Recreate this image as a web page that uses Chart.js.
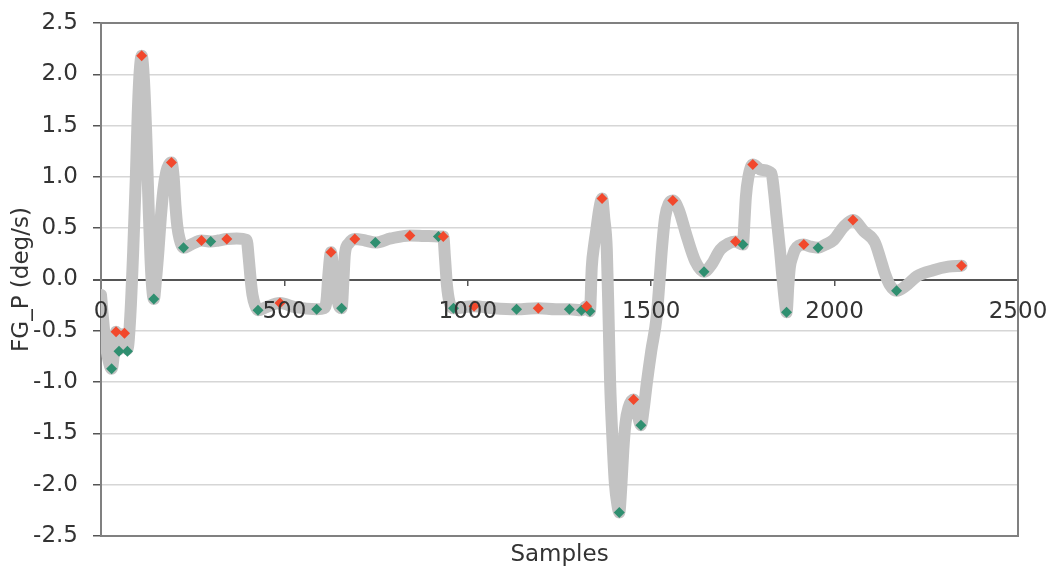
<!DOCTYPE html>
<html>
<head>
<meta charset="utf-8">
<title>FG_P (deg/s)</title>
<script src="https://cdn.jsdelivr.net/npm/chart.js@4.4.1/dist/chart.umd.min.js"></script>
<style>
  html, body { margin: 0; padding: 0; background: #fff; }
  #wrap { width: 1048px; height: 569px; position: relative; }
</style>
</head>
<body>
<div id="wrap"><canvas id="fgChart"></canvas></div>
<script>
// --- data ---
// gray trace (samples vs FG_P)
const sampleX = [
  0, 10, 20, 29, 38, 41, 49, 56, 64, 72, 80, 88, 95, 100, 105, 111, 117, 123, 129, 135,
  140, 144, 150, 157, 163, 170, 178, 185, 192, 198, 203, 208, 214, 225, 245, 274, 299, 320, 343, 370,
  397, 403, 408, 413, 420, 428, 450, 488, 530, 588, 608, 615, 620, 627, 633, 640, 648, 656, 661, 665,
  675, 692, 720, 748, 790, 842, 880, 920, 933, 938, 943, 950, 961, 1017, 1070, 1133, 1192, 1240, 1277, 1310,
  1324, 1333, 1338, 1345, 1351, 1358, 1366, 1372, 1379, 1384, 1388, 1395, 1401, 1408, 1413, 1418, 1424, 1430, 1438, 1452,
  1462, 1472, 1480, 1488, 1500, 1515, 1523, 1529, 1538, 1548, 1559, 1575, 1597, 1620, 1644, 1665, 1688, 1710, 1730, 1750,
  1754, 1758, 1765, 1777, 1800, 1828, 1835, 1842, 1851, 1857, 1864, 1869, 1874, 1878, 1885, 1892, 1916, 1935, 1955, 1975,
  1997, 2024, 2050, 2080, 2110, 2125, 2137, 2150, 2169, 2195, 2224, 2269, 2310, 2346
];
const rateY = [
  -0.15, -0.55, -0.78, -0.87, -0.62, -0.51, -0.68, -0.55, -0.53, -0.68, -0.35, 0.30, 1.00, 1.60, 2.00, 2.18, 1.95, 1.45, 0.80, 0.20,
  -0.10, -0.19, 0.00, 0.30, 0.60, 0.87, 1.05, 1.12, 1.14, 1.00, 0.72, 0.52, 0.40, 0.31, 0.34, 0.38, 0.37, 0.38, 0.395, 0.40,
  0.385, 0.20, 0.00, -0.15, -0.25, -0.30, -0.27, -0.23, -0.27, -0.29, -0.28, -0.20, 0.05, 0.265, 0.10, -0.10, -0.25, -0.28, 0.00, 0.25,
  0.35, 0.395, 0.38, 0.36, 0.40, 0.43, 0.425, 0.42, 0.42, 0.20, -0.05, -0.22, -0.28, -0.26, -0.28, -0.29, -0.28, -0.29, -0.29, -0.30,
  -0.26, -0.31, 0.12, 0.35, 0.50, 0.68, 0.79, 0.60, 0.29, -0.40, -1.00, -1.60, -1.99, -2.20, -2.27, -2.05, -1.66, -1.40, -1.25, -1.17,
  -1.30, -1.42, -1.25, -1.01, -0.70, -0.36, 0.00, 0.29, 0.61, 0.74, 0.77, 0.68, 0.42, 0.18, 0.075, 0.15, 0.29, 0.35, 0.37, 0.34,
  0.55, 0.80, 1.00, 1.12, 1.07, 1.035, 0.85, 0.60, 0.29, 0.05, -0.20, -0.32, -0.05, 0.12, 0.22, 0.29, 0.34, 0.32, 0.31, 0.34,
  0.385, 0.51, 0.58, 0.47, 0.36, 0.20, 0.06, -0.05, -0.11, -0.06, 0.03, 0.09, 0.125, 0.135
];

// local maxima (red)
const peakX = [41, 64, 111, 192, 274, 343, 488, 627, 692, 842, 933, 1017, 1192, 1324, 1366, 1452, 1559, 1730, 1777, 1916, 2050, 2346];
const peakY = [-0.51, -0.525, 2.18, 1.14, 0.38, 0.395, -0.23, 0.265, 0.395, 0.43, 0.42, -0.26, -0.28, -0.26, 0.79, -1.17, 0.77, 0.37, 1.12, 0.34, 0.58, 0.135];

// local minima (green)
const troughX = [29, 49, 72, 144, 225, 299, 428, 588, 656, 748, 920, 961, 1133, 1277, 1310, 1333, 1413, 1472, 1644, 1750, 1869, 1955, 2169];
const troughY = [-0.87, -0.70, -0.70, -0.19, 0.31, 0.37, -0.30, -0.29, -0.28, 0.36, 0.42, -0.28, -0.29, -0.29, -0.30, -0.31, -2.27, -1.42, 0.075, 0.34, -0.32, 0.31, -0.11];

// tick values
const xTicks = [0, 500, 1000, 1500, 2000, 2500];
const yTicks = [-2.5, -2.0, -1.5, -1.0, -0.5, 0.0, 0.5, 1.0, 1.5, 2.0, 2.5];

const toPoints = (xs, ys) => xs.map((x, i) => ({ x: x, y: ys[i] }));

Chart.defaults.font.family = '"DejaVu Sans", "Liberation Sans", Arial, sans-serif';
Chart.defaults.font.size = 23;
Chart.defaults.color = '#333';

// plot frame drawn round the chart area
const frame = {
  id: 'frame',
  beforeDatasetsDraw(chart) {
    const a = chart.chartArea, c = chart.ctx;
    c.save();
    c.strokeStyle = '#808080';
    c.lineWidth = 2;
    c.strokeRect(a.left, a.top, a.right - a.left, a.bottom - a.top);
    c.restore();
  }
};

new Chart(document.getElementById('fgChart'), {
  type: 'scatter',
  data: {
    datasets: [
      {
        label: 'max',
        data: toPoints(peakX, peakY),
        pointStyle: 'rectRot',
        pointRadius: 5.5,
        backgroundColor: '#f2482c',
        borderColor: '#f2482c',
        borderWidth: 0,
        order: 1
      },
      {
        label: 'min',
        data: toPoints(troughX, troughY),
        pointStyle: 'rectRot',
        pointRadius: 5.5,
        backgroundColor: '#2f8f70',
        borderColor: '#2f8f70',
        borderWidth: 0,
        order: 2
      },
      {
        label: 'FG_P',
        data: toPoints(sampleX, rateY),
        showLine: true,
        borderColor: '#c3c3c3',
        borderWidth: 12,
        borderJoinStyle: 'round',
        borderCapStyle: 'round',
        cubicInterpolationMode: 'monotone',
        pointRadius: 0,
        order: 3
      }
    ]
  },
  options: {
    responsive: true,
    maintainAspectRatio: false,
    animation: false,
    devicePixelRatio: 1,
    layout: { padding: { top: 23, right: 30, bottom: 0, left: 0 } },
    plugins: {
      legend: { display: false },
      tooltip: { enabled: false }
    },
    scales: {
      x: {
        type: 'linear',
        position: { y: 0 },
        min: 0,
        max: 2500,
        afterBuildTicks: s => { s.ticks = xTicks.map(v => ({ value: v })); },
        afterFit: s => { s.paddingLeft = 0; s.paddingRight = 0; },
        ticks: { z: 1, padding: 13, callback: v => String(v), maxRotation: 0 },
        grid: { drawOnChartArea: false, tickLength: 6, tickColor: '#555', lineWidth: 1.5 },
        border: { display: false }
      },
      xTitle: {
        type: 'linear',
        position: 'bottom',
        min: 0,
        max: 2500,
        ticks: { display: false },
        grid: { display: false, drawTicks: false },
        border: { display: false },
        title: { display: true, text: 'Samples', padding: { top: 0, bottom: 0 } },
        afterFit: s => { s.height = 33; s.paddingLeft = 0; s.paddingRight = 0; }
      },
      y: {
        type: 'linear',
        min: -2.5,
        max: 2.5,
        afterBuildTicks: s => { s.ticks = yTicks.map(v => ({ value: v })); },
        afterFit: s => { s.width = 101; s.paddingTop = 0; s.paddingBottom = 0; },
        ticks: { padding: 15, callback: v => Number(v).toFixed(1) },
        grid: {
          color: c => (c.tick && c.tick.value === 0 ? '#555' : '#d6d6d6'),
          lineWidth: c => (c.tick && c.tick.value === 0 ? 2 : 1.5),
          tickColor: '#555',
          tickLength: 8
        },
        border: { display: true, color: '#555', width: 2 },
        title: { display: true, text: 'FG_P (deg/s)', padding: { top: 8, bottom: 0 } }
      }
    }
  },
  plugins: [frame]
});
</script>
</body>
</html>
